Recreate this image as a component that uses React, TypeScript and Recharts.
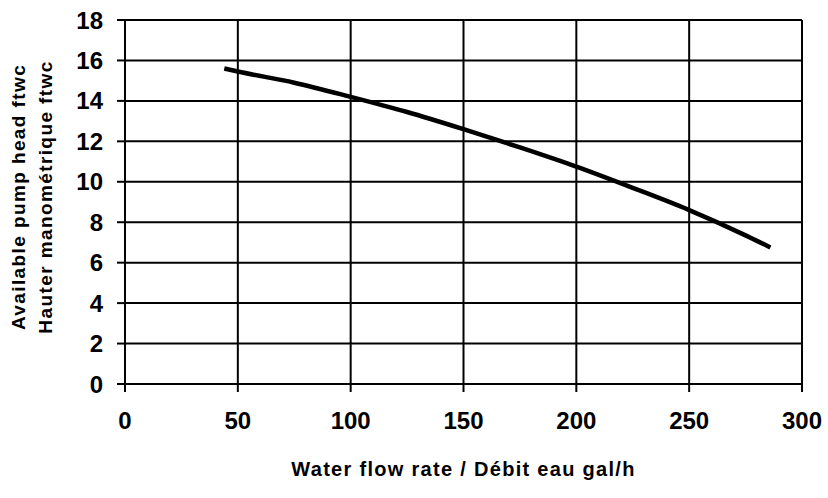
import { LineChart, Line, XAxis, YAxis, CartesianGrid, Label } from "recharts";

// flow rate (gal/h) and available head (ftwc)
const flowRates = [44, 50, 75, 100, 125, 150, 175, 200, 225, 250, 275, 286];
const pumpHead = [15.6, 15.45, 14.9, 14.2, 13.45, 12.6, 11.7, 10.75, 9.7, 8.6, 7.35, 6.75];

const xTicks = [0, 50, 100, 150, 200, 250, 300];
const yTicks = [0, 2, 4, 6, 8, 10, 12, 14, 16, 18];

const xTitle = "Water flow rate / Débit eau gal/h";
const yTitleLines = ["Available pump head ftwc", "Hauter manométrique ftwc"];

const data = flowRates.map((flow, i) => ({ flow, head: pumpHead[i] }));

const FONT = "'Liberation Sans', Arial, sans-serif";

function YTitle() {
  const cy = 197;
  return (
    <g>
      {yTitleLines.map((line, i) => {
        const x = 25 + i * 27;
        return (
          <text
            key={line}
            x={x}
            y={cy}
            transform={`rotate(-90 ${x} ${cy})`}
            textAnchor="middle"
            fontFamily={FONT}
            fontWeight="bold"
            fontSize={19}
            letterSpacing={1.4}
            fill="#000"
          >
            {line}
          </text>
        );
      })}
    </g>
  );
}

function XTitle(props: any) {
  const { viewBox } = props;
  return (
    <text
      x={viewBox.x + viewBox.width / 2}
      y={476}
      textAnchor="middle"
      fontFamily={FONT}
      fontWeight="bold"
      fontSize={20}
      letterSpacing={1.3}
      fill="#000"
    >
      {xTitle}
    </text>
  );
}

export default function App() {
  return (
    <div style={{ position: "absolute", left: 0, top: 0, background: "#fff" }}>
      <LineChart
        width={828}
        height={498}
        data={data}
        margin={{ top: 20, right: 26, bottom: 14, left: 0 }}
      >
        <CartesianGrid stroke="#000" strokeWidth={2} />
        <XAxis
          dataKey="flow"
          type="number"
          domain={[0, 300]}
          ticks={xTicks}
          height={100}
          stroke="#000"
          strokeWidth={2}
          tickSize={8}
          tickMargin={20}
          tick={{ fill: "#000", fontSize: 24, fontWeight: "bold", fontFamily: FONT }}
        >
          <Label content={XTitle} />
        </XAxis>
        <YAxis
          type="number"
          domain={[0, 18]}
          ticks={yTicks}
          width={125}
          stroke="#000"
          strokeWidth={2}
          tickSize={8}
          tickMargin={14}
          tick={{ fill: "#000", fontSize: 24, fontWeight: "bold", fontFamily: FONT }}
        >
          <Label content={YTitle} />
        </YAxis>
        <Line
          type="monotone"
          dataKey="head"
          stroke="#000"
          strokeWidth={4.5}
          dot={false}
          isAnimationActive={false}
        />
      </LineChart>
    </div>
  );
}
